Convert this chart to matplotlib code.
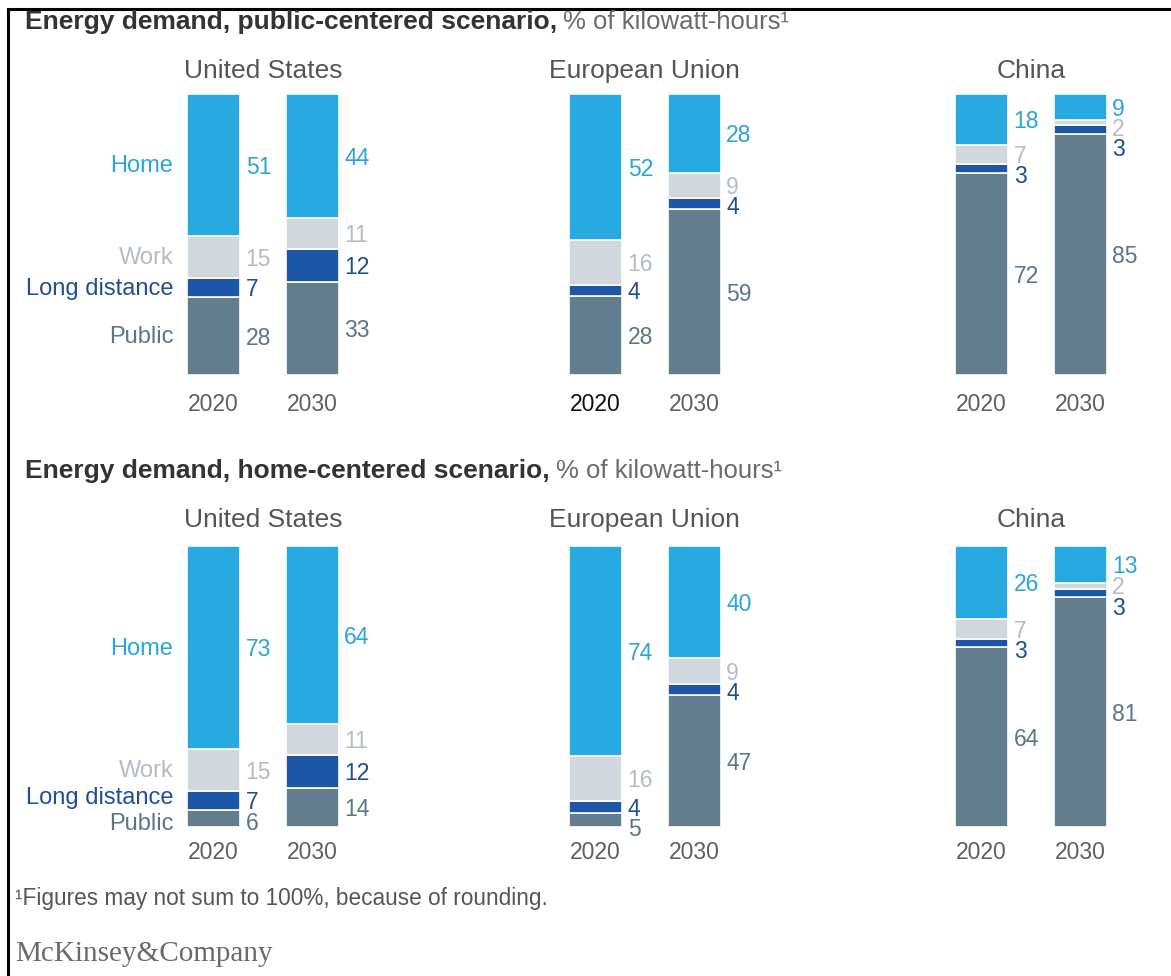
import matplotlib
matplotlib.use("Agg")
import matplotlib.pyplot as plt
from matplotlib.lines import Line2D
from matplotlib.transforms import offset_copy

# ---- data -------------------------------------------------------------
segments = ["Public", "Long distance", "Work", "Home"]   # stacked bottom -> top
years = ["2020", "2030"]
countries = ["United States", "European Union", "China"]

# public-centered scenario, % of kWh  (order: Public, Long distance, Work, Home)
public_us_2020 = [28, 7, 15, 51]
public_us_2030 = [33, 12, 11, 44]
public_eu_2020 = [28, 4, 16, 52]
public_eu_2030 = [59, 4, 9, 28]
public_cn_2020 = [72, 3, 7, 18]
public_cn_2030 = [85, 3, 2, 9]

# home-centered scenario, % of kWh
home_us_2020 = [6, 7, 15, 73]
home_us_2030 = [14, 12, 11, 64]
home_eu_2020 = [5, 4, 16, 74]
home_eu_2030 = [47, 4, 9, 40]
home_cn_2020 = [64, 3, 7, 26]
home_cn_2030 = [81, 3, 2, 13]

panels = [
    ("Energy demand, public-centered scenario,",
     [[public_us_2020, public_us_2030],
      [public_eu_2020, public_eu_2030],
      [public_cn_2020, public_cn_2030]]),
    ("Energy demand, home-centered scenario,",
     [[home_us_2020, home_us_2030],
      [home_eu_2020, home_eu_2030],
      [home_cn_2020, home_cn_2030]]),
]
unit_text = "% of kilowatt-hours\u00b9"

# ---- styling ----------------------------------------------------------
seg_colors = {"Home": "#27a9e1", "Work": "#d0d7dd",
              "Long distance": "#1d56a6", "Public": "#627d8e"}
txt_colors = {"Home": "#2aa5da", "Work": "#b4bcc3",
              "Long distance": "#1f4e98", "Public": "#5b7588"}
title_col = "#333333"
grey_col = "#5f5f5f"

plt.rcParams["font.family"] = ["Liberation Sans", "DejaVu Sans"]

W, H = 1171, 976
DPI = 100
fig = plt.figure(figsize=(W / DPI, H / DPI), dpi=DPI)
fig.patch.set_facecolor("white")


def fx(px):
    return px / W


def fy(py):
    return 1 - py / H


def push_down(mids, gap):
    """Walk labels from the top segment down, keeping them `gap` apart."""
    ys = [None] * len(mids)
    prev = None
    for k in range(len(mids) - 1, -1, -1):
        y = mids[k]
        if prev is not None and y > prev - gap:
            y = prev - gap
        ys[k] = y
        prev = y
    return ys


def spread(mids, gap, iters=50):
    """Symmetrically separate neighbouring labels closer than `gap`."""
    ys = list(mids)
    for _ in range(iters):
        moved = False
        for k in range(len(ys) - 1):
            d = ys[k + 1] - ys[k]
            if d < gap:
                s = (gap - d) / 2
                ys[k] -= s
                ys[k + 1] += s
                moved = True
        if not moved:
            break
    return ys


# frame lines along top and left
fig.add_artist(Line2D([fx(8), fx(W + 5)], [fy(9), fy(9)], color="black",
                      lw=2.2, transform=fig.transFigure))
fig.add_artist(Line2D([fx(8), fx(8)], [fy(9), fy(H + 5)], color="black",
                      lw=2.2, transform=fig.transFigure))

group_left_px = [187, 569, 955]     # left edge of the first bar of each pair
pitch_px = 98.5                      # distance between bar centres
bar_w = 0.54                         # in units of the pitch
half = bar_w / 2
axes_w_px = (1 + bar_w) * pitch_px

panel_geom = [  # (title baseline y, country y, bar top, bar bottom, year pad)
    (29, 70, 94, 375, 13),
    (478, 519, 546, 827, 10),
]

fig.canvas.draw()
renderer = fig.canvas.get_renderer()

for (ptitle, groups), (ty, cy, top_px, bot_px, ypad) in zip(panels, panel_geom):
    t = fig.text(fx(25), fy(ty), ptitle, fontsize=19, fontweight="bold",
                 color=title_col, ha="left", va="baseline")
    bb = t.get_window_extent(renderer=renderer)
    fig.text(bb.x1 / W + fx(6), fy(ty), unit_text, fontsize=18.5,
             color="#6b6b6b", ha="left", va="baseline")

    for gi, (country, bars) in enumerate(zip(countries, groups)):
        left = group_left_px[gi]
        ax = fig.add_axes([fx(left), fy(bot_px), fx(axes_w_px),
                           (bot_px - top_px) / H])
        ax.set_xlim(-half, 1 + half)
        ax.set_ylim(0, 100)
        ax.axis("off")

        fig.text(fx(left + axes_w_px / 2), fy(cy + 1), country, fontsize=19,
                 color="#555555", ha="center", va="center")

        for bi, vals in enumerate(bars):
            total = sum(vals)
            bottom = 0
            mids = []
            for seg, v in zip(segments, vals):
                h = v / total * 100       # shares of the rounded total
                ax.bar(bi, h, width=bar_w, bottom=bottom,
                       color=seg_colors[seg], edgecolor="white",
                       linewidth=1.2, clip_on=False)
                mids.append(bottom + h / 2)
                bottom += h

            ys = push_down(mids, 7.2)
            for k, (seg, v) in enumerate(zip(segments, vals)):
                ax.text(bi + half + 0.055, ys[k] - 0.8, str(v), fontsize=16.5,
                        color=txt_colors[seg], ha="left", va="center",
                        clip_on=False)

            if gi == 0 and bi == 0:
                cys = spread(mids, 9.4)
                for k, seg in enumerate(segments):
                    ax.text(-half - 0.14, cys[k] - 0.5, seg, fontsize=17,
                            color=txt_colors[seg], ha="right", va="center",
                            clip_on=False)

            ycol = "#111111" if (gi == 1 and bi == 0 and ty < 100) else grey_col
            ax.text(bi, 0, years[bi], fontsize=16.5, color=ycol,
                    ha="center", va="top", clip_on=False,
                    transform=offset_copy(ax.get_xaxis_transform(), fig=fig,
                                          y=-ypad, units="points"))

fig.text(fx(15), fy(899),
         "\u00b9Figures may not sum to 100%, because of rounding.",
         fontsize=16.3, color="#555555", ha="left", va="center")
fig.text(fx(15), fy(954), "McKinsey&Company", fontsize=21,
         family=["Liberation Serif", "DejaVu Serif"], color="#6a6a6a",
         ha="left", va="center")

fig.savefig("out.png", dpi=DPI, facecolor="white")
